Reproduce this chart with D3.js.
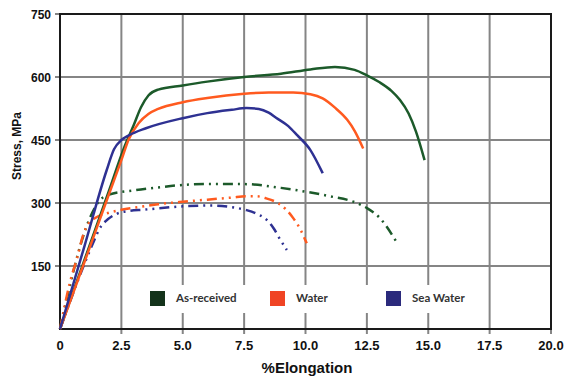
<!DOCTYPE html>
<html>
<head>
<meta charset="utf-8">
<script src="https://cdn.jsdelivr.net/npm/d3@7/dist/d3.min.js"></script>
<style>
  html, body { margin: 0; padding: 0; background: #fff; }
  svg { display: block; }
</style>
</head>
<body>
<svg id="chart" width="564" height="377"></svg>
<script>
// Tick values
const xTicks = [0, 2.5, 5, 7.5, 10, 12.5, 15, 17.5, 20];
const yTicks = [150, 300, 450, 600, 750];

// Legend
const legendLabels = ['As-received', 'Water', 'Sea Water'];

// Solid curves [elongation %, stress MPa]
const asReceived = [[0, 0], [1, 165], [2, 330], [2.6, 430], [3, 485], [3.3, 528], [3.6, 556], [4, 570],
    [5, 580], [6, 589], [7.5, 600], [9, 608], [10.2, 618], [11.2, 624], [12, 617], [12.5, 604],
    [13, 588], [13.5, 567], [13.85, 545], [14.2, 513], [14.5, 470], [14.85, 402]];
const water = [[0, 0], [1, 160], [2, 322], [2.5, 402], [2.8, 452], [3.2, 490], [3.6, 512], [4, 524],
    [5, 540], [6, 550], [7.5, 560], [8.5, 563], [9.5, 563], [10.2, 559], [10.7, 549], [11.2, 527],
    [11.7, 498], [12, 472], [12.35, 430]];
const seaWater = [[0, 0], [1, 198], [1.9, 378], [2.2, 428], [2.5, 450], [2.8, 461], [3.5, 478],
    [5, 502], [6, 514], [7, 522], [7.6, 526], [8.1, 524], [8.5, 515], [8.8, 503], [9.3, 483],
    [9.65, 462], [10.2, 426], [10.7, 371]];

// Dash-dot curves
const asReceivedDash = [[0, 0], [1.2, 262], [1.6, 305], [2, 320], [3, 330], [4, 337], [5, 343],
    [6, 345], [7.5, 345], [9, 336], [10, 327], [11, 316], [12, 302], [12.5, 288], [13, 266], [13.7, 208]];
const waterDash = [[0, 0], [0.4, 110], [0.7, 170], [0.95, 225], [1.15, 250], [1.45, 265], [2, 277],
    [2.5, 284], [3.3, 291], [4, 297], [5, 303], [6, 308], [7, 313], [7.6, 316], [8, 316], [8.4, 311],
    [8.9, 299], [9.2, 285], [9.5, 264], [9.8, 236], [10.05, 204]];
const seaWaterDash = [[0, 0], [1.4, 212], [1.6, 238], [1.85, 256], [2.3, 274], [2.8, 281], [3.4, 284],
    [5, 292], [6.2, 294], [7, 290], [7.6, 283], [8.1, 272], [8.4, 261], [8.7, 240], [8.96, 214], [9.24, 188]];

const colors = { green: '#1c5a2a', orange: '#ff5a1f', blue: '#2e3192' };
const legendColors = ['#14331b', '#f04424', '#2b2a7c'];

const svg = d3.select('#chart');
const x = d3.scaleLinear().domain([0, 20]).range([60, 551]);
const y = d3.scaleLinear().domain([0, 750]).range([329, 14]);

// Grid (extends a little outside as tick marks)
svg.append('g').selectAll('line').data(xTicks.slice(1, -1)).join('line')
    .attr('x1', d => x(d)).attr('x2', d => x(d))
    .attr('y1', y(750)).attr('y2', y(0) + 5)
    .attr('stroke', '#858585').attr('stroke-width', 2);
svg.append('g').selectAll('line').data(yTicks.slice(0, -1)).join('line')
    .attr('x1', x(0) - 5).attr('x2', x(20))
    .attr('y1', d => y(d)).attr('y2', d => y(d))
    .attr('stroke', '#858585').attr('stroke-width', 2);
// small ticks at the ends
svg.append('line').attr('x1', x(0) - 5).attr('x2', x(0)).attr('y1', y(750)).attr('y2', y(750))
    .attr('stroke', '#858585').attr('stroke-width', 2);
svg.append('line').attr('x1', x(20)).attr('x2', x(20)).attr('y1', y(0)).attr('y2', y(0) + 5)
    .attr('stroke', '#858585').attr('stroke-width', 2);

// Legend background breaks the grid
svg.append('rect').attr('x', 132).attr('y', 285).attr('width', 346).attr('height', 28).attr('fill', '#fff');

// Frame
svg.append('rect')
    .attr('x', x(0)).attr('y', y(750))
    .attr('width', x(20) - x(0)).attr('height', y(0) - y(750))
    .attr('fill', 'none').attr('stroke', '#1a1a1a').attr('stroke-width', 2);

// Tick labels
svg.append('g').selectAll('text').data(xTicks).join('text')
    .attr('x', d => x(d)).attr('y', 350)
    .attr('text-anchor', 'middle')
    .attr('font-family', 'Liberation Sans, Arial, sans-serif')
    .attr('font-size', 13).attr('font-weight', 700).attr('fill', '#111')
    .text(d => d === 0 ? '0' : d.toFixed(1));
svg.append('g').selectAll('text').data(yTicks).join('text')
    .attr('x', 51).attr('y', d => y(d) + 4.5)
    .attr('text-anchor', 'end')
    .attr('font-family', 'Liberation Sans, Arial, sans-serif')
    .attr('font-size', 12).attr('font-weight', 700).attr('fill', '#111')
    .text(d => d);

// Axis titles
svg.append('text')
    .attr('x', 307).attr('y', 373)
    .attr('text-anchor', 'middle')
    .attr('font-family', 'Liberation Sans, Arial, sans-serif')
    .attr('font-size', 15).attr('font-weight', 700).attr('fill', '#111')
    .text('%Elongation');
svg.append('text')
    .attr('transform', 'translate(21,146) rotate(-90)')
    .attr('text-anchor', 'middle')
    .attr('font-family', 'Liberation Sans, Arial, sans-serif')
    .attr('font-size', 12).attr('font-weight', 700).attr('fill', '#111')
    .text('Stress, MPa');

// Curves
const line = d3.line().x(d => x(d[0])).y(d => y(d[1])).curve(d3.curveMonotoneX);
const curves = [
    { data: asReceivedDash, color: colors.green, dash: '10 5 2 5 2 5' },
    { data: waterDash, color: colors.orange, dash: '10 5 2 5 2 5' },
    { data: seaWaterDash, color: colors.blue, dash: '10 5 2 5 2 5' },
    { data: asReceived, color: colors.green, dash: null },
    { data: water, color: colors.orange, dash: null },
    { data: seaWater, color: colors.blue, dash: null },
];
curves.forEach(c => {
    svg.append('path')
        .datum(c.data)
        .attr('d', line)
        .attr('fill', 'none')
        .attr('stroke', c.color)
        .attr('stroke-width', 2.5)
        .attr('stroke-dasharray', c.dash);
});

// Legend items
const legendX = [150, 270, 386];
legendLabels.forEach((label, i) => {
    svg.append('rect')
        .attr('x', legendX[i]).attr('y', 291)
        .attr('width', 15).attr('height', 15)
        .attr('fill', legendColors[i]);
    svg.append('text')
        .attr('x', legendX[i] + 26).attr('y', 302)
        .attr('font-family', 'Lato, sans-serif')
        .attr('font-size', 11.5).attr('font-weight', 700).attr('fill', '#333')
        .text(label);
});
</script>
</body>
</html>
